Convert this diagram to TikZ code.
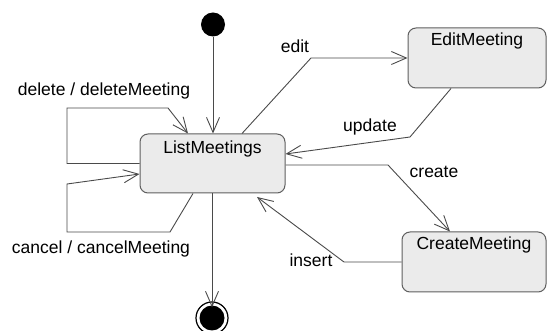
\documentclass[tikz,border=0pt]{standalone}
\usepackage{fontspec}
\setmainfont{Liberation Sans}
\usetikzlibrary{arrows.meta}
\definecolor{boxfill}{HTML}{EBEBEB}
\definecolor{boxline}{HTML}{5F5F5F}
\definecolor{wire}{HTML}{4A4A4A}
\begin{document}
\begin{tikzpicture}[x=1pt, y=-1pt,
  statebox/.style={draw=boxline, fill=boxfill, rounded corners=8pt, line width=1pt, inner sep=0pt},
  boxtitle/.style={anchor=base, inner sep=0pt, font=\fontsize{17.5}{20}\selectfont},
  translabel/.style={anchor=base, inner sep=0pt, font=\fontsize{17.5}{20}\selectfont},
  trans/.style={draw=wire, line width=0.9pt, -{Straight Barb[length=15pt,width=13pt,line width=0.9pt]}},
]
\useasboundingbox (0,0) rectangle (547,331);

% states
\node[statebox, minimum width=145pt, minimum height=59pt] (lm) at (212.5,163.5) {};
\node[boxtitle] (lmtitle) at (212.5,154) {ListMeetings};
\node[statebox, minimum width=138pt, minimum height=60pt] (em) at (477,58) {};
\node[boxtitle] (emtitle) at (477,46) {EditMeeting};
\node[statebox, minimum width=144pt, minimum height=60pt] (cm) at (474,262) {};
\node[boxtitle] (cmtitle) at (474,250) {CreateMeeting};

% pseudo states
\node[circle, fill=black, minimum size=24pt, inner sep=0pt] (init) at (213,24.5) {};
\node[circle, draw=black, line width=1.2pt, minimum size=32pt, inner sep=0pt] (final) at (212,318) {};
\fill[black] (final.center) circle (12.5pt);
\coordinate (finalin) at ([yshift=-6pt]final.north);

% transitions
\draw[trans] (init.south) -- (init.south |- lm.north);
\draw[trans] (lm.south -| final) -- (finalin);

\draw[trans] (lm.west) -- (67,0 |- lm.west) -- (67,108) -- (168,108) -- (188,0 |- lm.north);
\draw[trans] (193,0 |- lm.south) -- (170,232) -- (67,232) -- (67,184) -- (lm.west |- 0,174);

\draw[trans] (242,0 |- lm.north) -- (311,0 |- em.west) -- (em.west);
\draw[trans] (451,0 |- em.south) -- (410,137) -- (lm.east |- 0,154);
\draw[trans] (lm.east |- 0,165) -- (388,165) -- (450,0 |- cm.north);
\draw[trans] (cm.west) -- (344,0 |- cm.west) -- (257,197);

% labels
\node[translabel] (ledit) at (295,53) {edit};
\node[translabel] (lupdate) at (370,132) {update};
\node[translabel] (lcreate) at (434,178) {create};
\node[translabel] (linsert) at (311,267) {insert};
\node[translabel] (ldelete) at (104,96) {delete / deleteMeeting};
\node[translabel] (lcancel) at (101,254) {cancel / cancelMeeting};
\end{tikzpicture}
\end{document}
